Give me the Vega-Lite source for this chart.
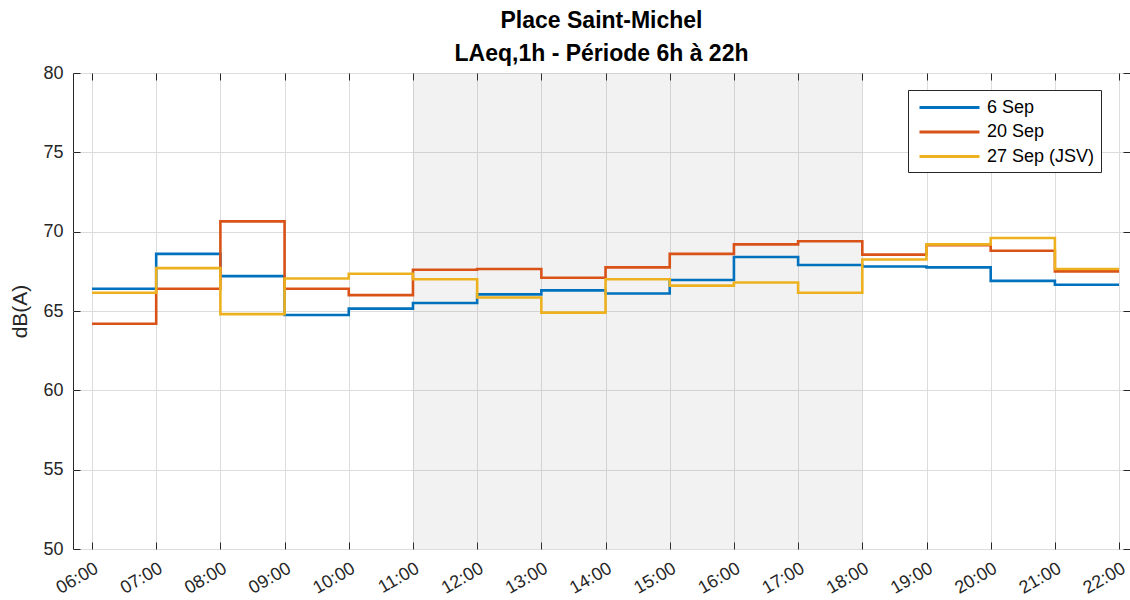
{
  "$schema": "https://vega.github.io/schema/vega-lite/v6.json",
  "width": 1057,
  "height": 476,
  "autosize": {"type": "none"},
  "padding": {"left": 73, "top": 73, "right": 0, "bottom": 51},
  "background": "white",
  "title": {
    "text": ["Place Saint-Michel", "LAeq,1h - Période 6h à 22h"],
    "font": "Liberation Sans",
    "fontSize": 23,
    "fontWeight": "bold",
    "color": "#000000",
    "anchor": "middle",
    "lineHeight": 33,
    "offset": -2
  },
  "config": {
    "view": {"stroke": "#262626", "strokeWidth": 1},
    "axis": {
      "labelFont": "Liberation Sans",
      "labelFontSize": 18,
      "labelColor": "#262626",
      "titleFont": "Liberation Sans",
      "titleFontSize": 21,
      "titleFontWeight": "normal",
      "titleColor": "#262626",
      "domain": false,
      "tickColor": "#262626",
      "tickSize": -7,
      "tickWidth": 1,
      "gridColor": "#dcdcdc",
      "gridWidth": 1,
      "gridOpacity": 1
    }
  },
  "resolve": {"axis": {"x": "independent", "y": "independent"}},
  "layer": [
    {
      "data": {"values": [{"start": 11, "end": 18, "lo": 50, "hi": 80}]},
      "mark": {"type": "rect", "fill": "#808080", "fillOpacity": 0.1},
      "encoding": {
        "x": {
          "field": "start",
          "type": "quantitative",
          "scale": {"domain": [5.704, 22.17], "nice": false, "zero": false},
          "axis": {"orient": "top", "values": [6,7,8,9,10,11,12,13,14,15,16,17,18,19,20,21,22], "labels": false, "grid": false, "title": null}
        },
        "x2": {"field": "end"},
        "y": {
          "field": "lo",
          "type": "quantitative",
          "scale": {"domain": [50, 80], "nice": false, "zero": false},
          "axis": {"orient": "right", "values": [50,55,60,65,70,75,80], "labels": false, "grid": false, "title": null}
        },
        "y2": {"field": "hi"}
      }
    },
    {
      "data": {
        "values": [
          {"h": 6, "serie": "6 Sep", "v": 66.4},
          {"h": 7, "serie": "6 Sep", "v": 68.6},
          {"h": 8, "serie": "6 Sep", "v": 67.2},
          {"h": 9, "serie": "6 Sep", "v": 64.75},
          {"h": 10, "serie": "6 Sep", "v": 65.15},
          {"h": 11, "serie": "6 Sep", "v": 65.5},
          {"h": 12, "serie": "6 Sep", "v": 66.05},
          {"h": 13, "serie": "6 Sep", "v": 66.3},
          {"h": 14, "serie": "6 Sep", "v": 66.1},
          {"h": 15, "serie": "6 Sep", "v": 66.95},
          {"h": 16, "serie": "6 Sep", "v": 68.4},
          {"h": 17, "serie": "6 Sep", "v": 67.9},
          {"h": 18, "serie": "6 Sep", "v": 67.8},
          {"h": 19, "serie": "6 Sep", "v": 67.75},
          {"h": 20, "serie": "6 Sep", "v": 66.9},
          {"h": 21, "serie": "6 Sep", "v": 66.65},
          {"h": 22, "serie": "6 Sep", "v": 66.65},
          {"h": 6, "serie": "20 Sep", "v": 64.2},
          {"h": 7, "serie": "20 Sep", "v": 66.4},
          {"h": 8, "serie": "20 Sep", "v": 70.65},
          {"h": 9, "serie": "20 Sep", "v": 66.4},
          {"h": 10, "serie": "20 Sep", "v": 66.0},
          {"h": 11, "serie": "20 Sep", "v": 67.6},
          {"h": 12, "serie": "20 Sep", "v": 67.65},
          {"h": 13, "serie": "20 Sep", "v": 67.1},
          {"h": 14, "serie": "20 Sep", "v": 67.75},
          {"h": 15, "serie": "20 Sep", "v": 68.6},
          {"h": 16, "serie": "20 Sep", "v": 69.2},
          {"h": 17, "serie": "20 Sep", "v": 69.4},
          {"h": 18, "serie": "20 Sep", "v": 68.55},
          {"h": 19, "serie": "20 Sep", "v": 69.15},
          {"h": 20, "serie": "20 Sep", "v": 68.8},
          {"h": 21, "serie": "20 Sep", "v": 67.5},
          {"h": 22, "serie": "20 Sep", "v": 67.5},
          {"h": 6, "serie": "27 Sep (JSV)", "v": 66.15},
          {"h": 7, "serie": "27 Sep (JSV)", "v": 67.7},
          {"h": 8, "serie": "27 Sep (JSV)", "v": 64.8},
          {"h": 9, "serie": "27 Sep (JSV)", "v": 67.05},
          {"h": 10, "serie": "27 Sep (JSV)", "v": 67.35},
          {"h": 11, "serie": "27 Sep (JSV)", "v": 67.0},
          {"h": 12, "serie": "27 Sep (JSV)", "v": 65.85},
          {"h": 13, "serie": "27 Sep (JSV)", "v": 64.9},
          {"h": 14, "serie": "27 Sep (JSV)", "v": 67.0},
          {"h": 15, "serie": "27 Sep (JSV)", "v": 66.6},
          {"h": 16, "serie": "27 Sep (JSV)", "v": 66.8},
          {"h": 17, "serie": "27 Sep (JSV)", "v": 66.15},
          {"h": 18, "serie": "27 Sep (JSV)", "v": 68.25},
          {"h": 19, "serie": "27 Sep (JSV)", "v": 69.2},
          {"h": 20, "serie": "27 Sep (JSV)", "v": 69.6},
          {"h": 21, "serie": "27 Sep (JSV)", "v": 67.65},
          {"h": 22, "serie": "27 Sep (JSV)", "v": 67.65}
        ]
      },
      "mark": {"type": "line", "interpolate": "step-after", "strokeWidth": 2.6},
      "encoding": {
        "x": {
          "field": "h",
          "type": "quantitative",
          "axis": {
            "orient": "bottom",
            "values": [6,7,8,9,10,11,12,13,14,15,16,17,18,19,20,21,22],
            "labelExpr": "(datum.value < 10 ? '0' : '') + datum.value + ':00'",
            "labelAngle": -30,
            "labelAlign": "right",
            "labelBaseline": "top",
            "labelPadding": 17,
            "grid": true,
            "title": null
          }
        },
        "y": {
          "field": "v",
          "type": "quantitative",
          "axis": {
            "orient": "left",
            "values": [50,55,60,65,70,75,80],
            "labelPadding": 17,
            "grid": true,
            "title": "dB(A)",
            "titlePadding": 12
          }
        },
        "color": {
          "field": "serie",
          "type": "nominal",
          "sort": ["6 Sep", "20 Sep", "27 Sep (JSV)"],
          "scale": {"domain": ["6 Sep", "20 Sep", "27 Sep (JSV)"], "range": ["#0072BD", "#D95319", "#EDB120"]},
          "legend": {
            "title": null,
            "orient": "none",
            "legendX": 835,
            "legendY": 17,
            "fillColor": "white",
            "strokeColor": "#262626",
            "padding": 6,
            "symbolType": "M-3,0H3",
            "symbolSize": 400,
            "symbolStrokeWidth": 3,
            "symbolOffset": 24,
            "labelFont": "Liberation Sans",
            "labelFontSize": 18,
            "labelColor": "#000000",
            "labelOffset": 26,
            "rowPadding": 3.5
          }
        },
        "order": {"field": "h"}
      }
    }
  ]
}
